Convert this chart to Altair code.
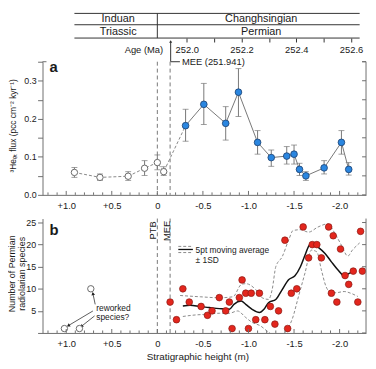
import math
import altair as alt
import pandas as pd

FONT = "Liberation Sans"
AX = "#6e6e6e"
TXT = "#1a1a1a"

# ---------------- layout ----------------
W = 328
H_TOP, H_A, H_B = 25, 135, 116
X_DOM = [1.26, -2.29]
AGE_DOM = [251.4728, 252.6548]
Y_A_DOM = [0, 0.35]
Y_B_DOM = [0, 25.9]

# ---------------- stratigraphic table ----------------
stage_names = ["Induan", "Changhsingian"]
system_names = ["Triassic", "Permian"]
name_h = [0.43, -1.14]
table_left_h, table_mid_h, table_right_h = 0.91, 0.0, -2.22
row_lines_v = [0, 11.5, 25]
row_text_v = [6.1, 19.4]
age_ticks = [252.0, 252.1, 252.2, 252.3, 252.4, 252.5, 252.6]
mee_age = 251.941

ptb_h = 0.0
mee_h = -0.14

# ---------------- panel a : 3He_ET flux ----------------
a_open_h = [0.91, 0.63, 0.32, 0.14, 0.00, -0.07]
a_open_flux = [0.059, 0.046, 0.049, 0.070, 0.085, 0.061]
a_open_lo = [0.046, 0.038, 0.038, 0.051, 0.066, 0.051]
a_open_hi = [0.072, 0.055, 0.061, 0.090, 0.105, 0.074]

a_blue_h = [-0.31, -0.51, -0.75, -0.89, -1.10, -1.25, -1.42, -1.50, -1.56, -1.63, -1.83, -2.02, -2.10]
a_blue_flux = [0.182, 0.238, 0.188, 0.270, 0.138, 0.098, 0.102, 0.107, 0.067, 0.050, 0.071, 0.138, 0.067]
a_blue_lo = [0.141, 0.185, 0.144, 0.206, 0.107, 0.075, 0.081, 0.081, 0.051, 0.038, 0.055, 0.107, 0.052]
a_blue_hi = [0.225, 0.293, 0.232, 0.332, 0.169, 0.118, 0.127, 0.131, 0.083, 0.061, 0.090, 0.169, 0.085]

# ---------------- panel b : radiolarian species ----------------
b_h = [-0.14, -0.21, -0.28, -0.35, -0.48, -0.55, -0.60, -0.68, -0.75, -0.79,
       -0.82, -0.90, -0.93, -0.97, -1.00, -1.03, -1.08, -1.12, -1.18, -1.24,
       -1.29, -1.33, -1.40, -1.43, -1.47, -1.53, -1.60, -1.66, -1.70, -1.75,
       -1.80, -1.88, -1.91, -1.93, -1.97, -2.01, -2.06, -2.10, -2.15, -2.20,
       -2.23, -2.25]
b_n = [7, 3, 10, 7, 6, 4, 5, 8, 5, 7,
       1, 8, 12, 9, 1, 9, 3, 9, 3, 6,
       2, 5, 21, 1, 9, 10, 24, 17, 20, 20,
       17, 24, 9, 22, 7, 19, 13, 11, 14, 7,
       23, 14]
rew_h = [1.02, 0.855, 0.73]
rew_n = [1, 1, 10]

ma_h = [-0.28, -0.36, -0.47, -0.57, -0.68, -0.79, -0.84, -0.92, -0.97, -1.04,
        -1.12, -1.17, -1.22, -1.30, -1.37, -1.44, -1.51, -1.57, -1.62, -1.67,
        -1.71, -1.76, -1.84, -1.91, -1.98, -2.05, -2.11, -2.16]
ma_n = [6.1, 6.25, 5.96, 5.74, 5.51, 5.36, 6.47, 7.21, 6.47, 5.36,
        4.62, 5.36, 6.85, 7.59, 9.82, 12.05, 12.95, 15.0, 17.6, 19.9,
        20.25, 19.5, 18.0, 16.1, 14.3, 12.95, 13.55, 13.9]
up_h = [-0.25, -0.47, -0.68, -0.83, -0.92, -0.97, -1.08, -1.15, -1.22, -1.26,
        -1.30, -1.37, -1.44, -1.49, -1.57, -1.66, -1.76, -1.87, -1.95, -2.02,
        -2.09, -2.14, -2.22]
up_n = [8.48, 8.19, 7.97, 8.19, 10.94, 11.16, 9.82, 7.97, 7.59, 9.82,
        15.0, 17.25, 20.98, 23.2, 23.37, 22.83, 23.95, 24.7, 22.48, 19.87,
        17.41, 18.75, 20.38]
lo_h = [-0.28, -0.39, -0.54, -0.68, -0.79, -0.88, -0.97, -1.04, -1.13, -1.22,
        -1.31, -1.40, -1.48, -1.55, -1.62, -1.69, -1.75, -1.80, -1.85, -1.91,
        -1.98, -2.05, -2.13, -2.20]
lo_n = [3.73, 4.02, 4.24, 4.46, 4.46, 4.98, 3.50, 2.39, 1.63, 0.16,
        -0.9, 0.16, 3.13, 8.33, 13.55, 18.75, 18.37, 14.29, 10.56, 9.08,
        9.15, 9.38, 8.93, 8.26]

# annotation arrows ("reworked species?")
arr_h1 = [0.707, 0.689, 0.682]
arr_n1 = [4.98, 3.86, 6.47]
arr_h2 = [0.977, 0.833, 0.707]
arr_n2 = [1.65, 1.50, 8.93]

# axis ticks
X_MAJOR = [1.0, 0.5, 0.0, -0.5, -1.0, -1.5, -2.0]
X_MINOR = [1.2, 1.1, 0.9, 0.8, 0.7, 0.6, 0.4, 0.3, 0.2, 0.1,
           -0.1, -0.2, -0.3, -0.4, -0.6, -0.7, -0.8, -0.9, -1.1, -1.2,
           -1.3, -1.4, -1.6, -1.7, -1.8, -1.9, -2.1, -2.2]
Y_A_TICKS = [0.0, 0.05, 0.10, 0.15, 0.20, 0.25, 0.30, 0.35]
Y_B_TICKS = [0, 5, 10, 15, 20, 25]

TITLE_A = "³Heₑₜ flux (pcc cm⁻² kyr⁻¹)"
TITLE_B = ["Number of Permian", "radiolarian species"]

# ---------------- scales / axes ----------------
XH = alt.Scale(domain=X_DOM, nice=False, zero=False)
XAGE = alt.Scale(domain=AGE_DOM, nice=False, zero=False)
YT = alt.Scale(domain=[0, H_TOP], reverse=True, nice=False, zero=False)
YA = alt.Scale(domain=Y_A_DOM, nice=False, zero=False)
YB = alt.Scale(domain=Y_B_DOM, nice=False, zero=False)

LBL = ("datum.value > 0.01 ? '+' + format(datum.value, '.1f') : "
       "(datum.value < -0.01 ? '-' + format(-datum.value, '.1f') : '0')")

age_axis = alt.Axis(values=age_ticks, orient="bottom", domain=False, tickSize=4,
                    tickColor="#333", labelPadding=3, labelFontSize=9.5, labelColor=TXT,
                    labelExpr="(round(datum.value*10) % 2 == 0) ? format(datum.value, '.1f') : ''",
                    grid=False, title=None)
xa_axis = alt.Axis(values=X_MAJOR, labelExpr=LBL, ticks=False, tickSize=0, labelPadding=6,
                   domainColor=AX, labelFontSize=9.5, labelColor=TXT, grid=False, title=None)
xb_axis = alt.Axis(values=X_MAJOR, labelExpr=LBL, ticks=False, tickSize=0, labelPadding=6,
                   domainColor=AX, labelFontSize=9.5, labelColor=TXT, grid=False,
                   title="Stratigraphic height (m)", titleFontSize=10, titleFontWeight="normal",
                   titlePadding=3, titleColor=TXT, titleX=157)
ya_axis = alt.Axis(values=Y_A_TICKS,
                   labelExpr="(abs(datum.value*10 - round(datum.value*10)) < 0.001 && datum.value < 0.34) ? format(datum.value, '.1f') : ''",
                   tickSize=5, tickColor=AX, domainColor=AX, labelPadding=1.5, labelFontSize=9,
                   labelColor=TXT, grid=False, title=None)
yb_axis = alt.Axis(values=Y_B_TICKS, labelExpr="datum.value == 0 ? '' : format(datum.value, 'd')",
                   tickSize=5, tickColor=AX, domainColor=AX, labelPadding=2, labelFontSize=9,
                   labelColor=TXT, grid=False, title=None)


def xt(f):
    return alt.X(f"{f}:Q", scale=XH, axis=None)


def yt(f):
    return alt.Y(f"{f}:Q", scale=YT, axis=None)


def xage(f):
    return alt.X(f"{f}:Q", scale=XAGE, axis=age_axis)


def xa(f="h"):
    return alt.X(f"{f}:Q", scale=XH, axis=xa_axis)


def ya(f):
    return alt.Y(f"{f}:Q", scale=YA, axis=ya_axis)


def xb(f="h"):
    return alt.X(f"{f}:Q", scale=XH, axis=xb_axis)


def yb(f):
    return alt.Y(f"{f}:Q", scale=YB, axis=yb_axis)


ONE = pd.DataFrame({"k": [0]})

# ================= top: stratigraphic table + age axis =================
t_rows = alt.Chart(pd.DataFrame({"h": [table_left_h] * 3, "h2": [table_right_h] * 3,
                                 "v": row_lines_v})).mark_rule(color="#333", strokeWidth=1).encode(
    x=xt("h"), x2="h2", y=yt("v"))
t_div = alt.Chart(pd.DataFrame({"h": [table_mid_h], "v": [row_lines_v[0]], "v2": [row_lines_v[-1]]})
                  ).mark_rule(color="#333", strokeWidth=1).encode(x=xt("h"), y=yt("v"), y2="v2")
t_txt = alt.Chart(pd.DataFrame({"h": name_h * 2,
                                "v": [row_text_v[0]] * 2 + [row_text_v[1]] * 2,
                                "t": stage_names + system_names})).mark_text(
    fontSize=11, color=TXT, baseline="middle", align="center").encode(x=xt("h"), y=yt("v"), text="t:N")
t_agelab = alt.Chart(pd.DataFrame({"h": [-0.064], "v": [37.5], "t": ["Age (Ma)"]})).mark_text(
    fontSize=9.5, color=TXT, baseline="middle", align="right").encode(x=xt("h"), y=yt("v"), text="t:N")

mee_df = pd.DataFrame({"age": [mee_age], "age2": [251.9748], "agetxt": [251.982],
                       "v1": [28.5], "v2": [49.0], "t": [f"MEE ({mee_age})"]})
m_v = alt.Chart(mee_df).mark_rule(color="#333", strokeWidth=1).encode(x=xage("age"), y=yt("v1"), y2="v2")
m_h = alt.Chart(mee_df).mark_rule(color="#333", strokeWidth=1).encode(x=xage("age"), x2="age2", y=yt("v2"))
m_head = alt.Chart(mee_df).mark_point(shape="triangle-up", filled=True, size=10, color="#333",
                                      opacity=1).encode(x=xage("age"), y=yt("v1"))
m_txt = alt.Chart(mee_df).mark_text(fontSize=9.5, color=TXT, align="left", baseline="middle").encode(
    x=xage("agetxt"), y=yt("v2"), text="t:N")

top = alt.layer(
    alt.layer(t_rows, t_div, t_txt, t_agelab),
    alt.layer(m_v, m_h, m_head, m_txt),
).resolve_scale(x="independent").properties(width=W, height=H_TOP)

# ================= panel a =================
open_df = pd.DataFrame({"h": a_open_h, "v": a_open_flux, "lo": a_open_lo, "hi": a_open_hi})
blue_df = pd.DataFrame({"h": a_blue_h, "v": a_blue_flux, "lo": a_blue_lo, "hi": a_blue_hi})
all_a = pd.concat([open_df, blue_df], ignore_index=True)
dash_df = pd.concat([open_df, blue_df.iloc[:1]], ignore_index=True)
bound_df = pd.DataFrame({"h": [ptb_h, mee_h]})

pa_vl = alt.Chart(bound_df).mark_rule(color="#777", strokeDash=[4, 3], strokeWidth=1).encode(
    x=xa("h"), y=alt.value(0), y2=alt.value(H_A))
pa_err = alt.Chart(all_a).mark_rule(color="#777", strokeWidth=1).encode(x=xa("h"), y=ya("lo"), y2="hi")
pa_cap1 = alt.Chart(all_a).mark_tick(orient="horizontal", size=6, thickness=1, color="#777").encode(
    x=xa("h"), y=ya("lo"))
pa_cap2 = alt.Chart(all_a).mark_tick(orient="horizontal", size=6, thickness=1, color="#777").encode(
    x=xa("h"), y=ya("hi"))
pa_dash = alt.Chart(dash_df).mark_line(color="#888", strokeDash=[3, 2], strokeWidth=1).encode(
    x=xa("h"), y=ya("v"))
pa_line = alt.Chart(blue_df).mark_line(color="#777", strokeWidth=1).encode(x=xa("h"), y=ya("v"))
pa_open = alt.Chart(open_df).mark_point(shape="circle", filled=True, fill="white", stroke="#6a6a6a",
                                        strokeWidth=1, size=42, opacity=1).encode(x=xa("h"), y=ya("v"))
pa_blue = alt.Chart(blue_df).mark_point(shape="circle", filled=True, fill="#2a86e0", stroke="#1b3f6e",
                                        strokeWidth=0.8, size=46, opacity=1).encode(x=xa("h"), y=ya("v"))
pa_tmaj = alt.Chart(pd.DataFrame({"h": X_MAJOR})).mark_rule(color=AX).encode(
    x=xa("h"), y=alt.value(H_A), y2=alt.value(H_A - 4))
pa_tmin = alt.Chart(pd.DataFrame({"h": X_MINOR})).mark_rule(color=AX).encode(
    x=xa("h"), y=alt.value(H_A), y2=alt.value(H_A - 2.5))
pa_rframe = alt.Chart(ONE).mark_rule(color=AX).encode(
    x=alt.value(W), y=alt.value(0), y2=alt.value(H_A))
pa_rticks = alt.Chart(pd.DataFrame({"v": Y_A_TICKS})).mark_rule(color=AX).encode(
    x=alt.value(W - 4), x2=alt.value(W), y=ya("v"))
pa_corner = alt.Chart(pd.DataFrame({"x1": [0, W - 4], "x2": [4, W]})).mark_rule(color=AX).encode(
    x=alt.X("x1:Q", scale=None), x2="x2:Q", y=alt.value(0))
pa_lab = alt.Chart(ONE).mark_text(text="a", fontSize=15, fontWeight="bold", color=TXT,
                                  align="left", baseline="alphabetic").encode(
    x=alt.value(7), y=alt.value(10))
pa_title = alt.Chart(ONE).mark_text(text=TITLE_A, fontSize=8.5, color=TXT, angle=270,
                                    align="center", baseline="middle").encode(
    x=alt.value(-30), y=alt.value(65))

panel_a = alt.layer(pa_vl, pa_err, pa_cap1, pa_cap2, pa_dash, pa_line, pa_open, pa_blue,
                    pa_tmaj, pa_tmin, pa_rframe, pa_rticks, pa_corner, pa_lab, pa_title).properties(
    width=W, height=H_A)

# ================= panel b =================
red_df = pd.DataFrame({"h": b_h, "v": b_n})
rew_df = pd.DataFrame({"h": rew_h, "v": rew_n})
ma_df = pd.DataFrame({"h": ma_h, "v": ma_n})
up_df = pd.DataFrame({"h": up_h, "v": up_n})
lo_df = pd.DataFrame({"h": lo_h, "v": lo_n})

PX_H = W / (X_DOM[0] - X_DOM[1])
PX_N = H_B / (Y_B_DOM[1] - Y_B_DOM[0])
arr_ang = []
for h1, n1, h2, n2 in zip(arr_h1, arr_n1, arr_h2, arr_n2):
    dx = -(h2 - h1) * PX_H
    dy = -(n2 - n1) * PX_N
    arr_ang.append(math.degrees(math.atan2(dx, -dy)) % 360)
arr_df = pd.DataFrame({"h": arr_h1, "v": arr_n1, "h2": arr_h2, "v2": arr_n2, "ang": arr_ang})

pb_vl = alt.Chart(bound_df).mark_rule(color="#777", strokeDash=[4, 3], strokeWidth=1).encode(
    x=xb("h"), y=alt.value(0), y2=alt.value(H_B))
pb_bl = alt.Chart(pd.DataFrame({"h": [0.05, -0.107], "v": [23.2, 23.1], "t": ["PTB", "MEE"]})).mark_text(
    fontSize=9.5, color=TXT, angle=270, align="center", baseline="middle").encode(
    x=xb("h"), y=yb("v"), text="t:N")
pb_up = alt.Chart(up_df).mark_line(color="#8a8a8a", strokeDash=[3, 2], strokeWidth=1,
                                   interpolate="monotone", clip=True).encode(x=xb("h"), y=yb("v"))
pb_lo = alt.Chart(lo_df).mark_line(color="#8a8a8a", strokeDash=[3, 2], strokeWidth=1,
                                   interpolate="monotone", clip=True).encode(x=xb("h"), y=yb("v"))
pb_ma = alt.Chart(ma_df).mark_line(color="#111", strokeWidth=1.5, interpolate="monotone").encode(
    x=xb("h"), y=yb("v"))
pb_red = alt.Chart(red_df).mark_point(shape="circle", filled=True, fill="#e3261d", stroke="#8a1a14",
                                      strokeWidth=0.7, size=46, opacity=1).encode(x=xb("h"), y=yb("v"))
pb_rew = alt.Chart(rew_df).mark_point(shape="circle", filled=True, fill="white", stroke="#6a6a6a",
                                      strokeWidth=1, size=42, opacity=1).encode(x=xb("h"), y=yb("v"))
pb_arr = alt.Chart(arr_df).mark_rule(color="#333", strokeWidth=0.8).encode(
    x=xb("h"), y=yb("v"), x2="h2", y2="v2")
pb_head = alt.Chart(arr_df).mark_point(shape="triangle-up", filled=True, size=14, color="#222",
                                       opacity=1).encode(
    x=xb("h2"), y=yb("v2"), angle=alt.Angle("ang:Q", scale=None))
pb_rtxt = alt.Chart(pd.DataFrame({"h": [0.671, 0.671], "v": [5.6, 3.6],
                                  "t": ["reworked", "species?"]})).mark_text(
    fontSize=8.5, color=TXT, align="left", baseline="middle").encode(x=xb("h"), y=yb("v"), text="t:N")

# legend
leg_lines = pd.DataFrame({"h": [-0.23, -0.23, -0.23], "h2": [-0.39, -0.39, -0.39],
                          "v": [19.6, 18.9, 18.2], "kind": ["sd", "ma", "sd"]})
pb_leg_sd = alt.Chart(leg_lines[leg_lines.kind == "sd"]).mark_rule(
    color="#8a8a8a", strokeDash=[3, 2], strokeWidth=1).encode(x=xb("h"), x2="h2", y=yb("v"))
pb_leg_ma = alt.Chart(leg_lines[leg_lines.kind == "ma"]).mark_rule(color="#111", strokeWidth=1.3).encode(
    x=xb("h"), x2="h2", y=yb("v"))
pb_leg_t = alt.Chart(pd.DataFrame({"h": [-0.42, -0.42], "v": [18.75, 16.5],
                                   "t": ["5pt moving average", "± 1SD"]})).mark_text(
    fontSize=8.5, color=TXT, align="left", baseline="middle").encode(x=xb("h"), y=yb("v"), text="t:N")

pb_tmaj = alt.Chart(pd.DataFrame({"h": X_MAJOR})).mark_rule(color=AX).encode(
    x=xb("h"), y=alt.value(H_B), y2=alt.value(H_B - 4))
pb_tmin = alt.Chart(pd.DataFrame({"h": X_MINOR})).mark_rule(color=AX).encode(
    x=xb("h"), y=alt.value(H_B), y2=alt.value(H_B - 2.5))
pb_rframe = alt.Chart(ONE).mark_rule(color=AX).encode(
    x=alt.value(W), y=alt.value(0), y2=alt.value(H_B))
pb_rticks = alt.Chart(pd.DataFrame({"v": Y_B_TICKS})).mark_rule(color=AX).encode(
    x=alt.value(W - 4), x2=alt.value(W), y=yb("v"))
pb_lab = alt.Chart(ONE).mark_text(text="b", fontSize=15, fontWeight="bold", color=TXT,
                                  align="left", baseline="alphabetic").encode(
    x=alt.value(7), y=alt.value(17))
pb_title1 = alt.Chart(ONE).mark_text(text=TITLE_B[0], fontSize=9, color=TXT, angle=270,
                                     align="center", baseline="middle").encode(
    x=alt.value(-31), y=alt.value(56))
pb_title2 = alt.Chart(ONE).mark_text(text=TITLE_B[1], fontSize=9, color=TXT, angle=270,
                                     align="center", baseline="middle").encode(
    x=alt.value(-21), y=alt.value(56))

panel_b = alt.layer(pb_vl, pb_bl, pb_up, pb_lo, pb_ma, pb_arr, pb_head, pb_rew, pb_red, pb_rtxt,
                    pb_leg_sd, pb_leg_ma, pb_leg_t, pb_tmaj, pb_tmin, pb_rframe, pb_rticks,
                    pb_lab, pb_title1, pb_title2).properties(width=W, height=H_B)

chart = alt.vconcat(top, panel_a, panel_b, spacing=24, bounds="flush").properties(
    padding={"left": 0, "top": 2, "right": 0, "bottom": 0}
).configure_view(stroke=None).configure_axis(
    labelFont=FONT, titleFont=FONT
).configure_text(font=FONT)

chart.save("out.html", embed_options={"renderer": "svg", "actions": False})
